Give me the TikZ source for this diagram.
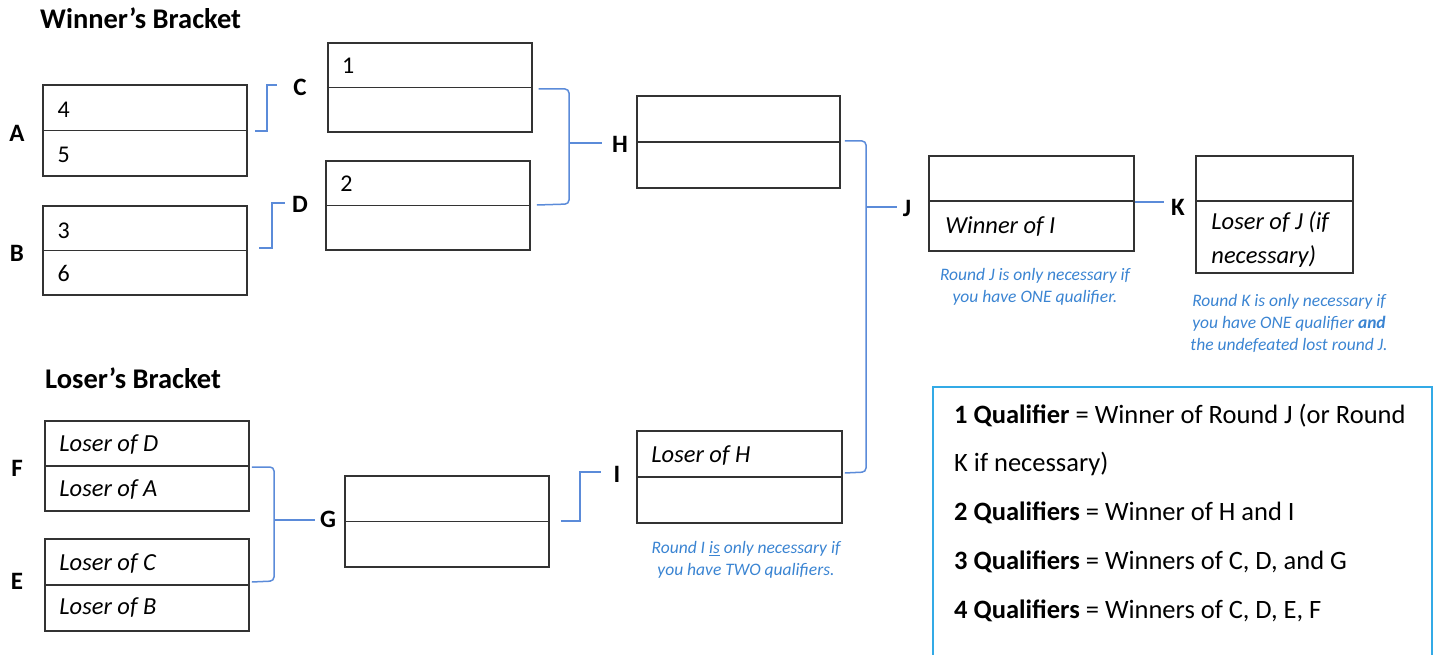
\documentclass[tikz,border=0pt]{standalone}
\usepackage{fontspec}
\setmainfont{Carlito}
\usetikzlibrary{calc}
\definecolor{connc}{HTML}{5B8BD9}
\definecolor{notec}{HTML}{3A84D2}
\definecolor{legc}{HTML}{33AAE6}
\definecolor{boxc}{HTML}{333333}
\begin{document}
\begin{tikzpicture}[x=1pt,y=-1pt,
  bx/.style={draw=boxc,line width=1.6pt,inner sep=0pt,minimum width=204pt,minimum height=91pt},
  lbl/.style={font=\fontsize{25}{30}\selectfont\bfseries,inner sep=0pt},
  ttl/.style={font=\fontsize{28.5}{33}\selectfont\bfseries,inner sep=0pt,anchor=west},
  num/.style={font=\fontsize{24}{29}\selectfont,inner sep=0pt,anchor=west},
  itx/.style={font=\fontsize{24.5}{29}\selectfont\itshape,inner sep=0pt,anchor=west},
  note/.style={font=\fontsize{17.5}{22}\selectfont\itshape,text=notec,align=center,inner sep=0pt},
  leg/.style={font=\fontsize{26.5}{31}\selectfont,inner sep=0pt,anchor=west},
  connl/.style={draw=connc,line width=1.5pt},
  divl/.style={draw=boxc,line width=1.6pt}]
\useasboundingbox (0,0) rectangle (1437,655);

% titles
\node[ttl] (tW) at (40,18) {Winner’s Bracket};
\node[ttl] (tL) at (45,378) {Loser’s Bracket};

% boxes
\node[bx] (A) at (145.25,130.5) {};
\node[bx,minimum height=89pt] (B) at (145.25,250.5) {};
\node[bx,minimum height=89pt] (C) at (429.75,87.5) {};
\node[bx,minimum height=89pt] (D) at (428,205.5) {};
\node[bx,minimum width=203pt,minimum height=92pt] (H) at (738.5,142) {};
\node[bx,minimum width=205pt,minimum height=95pt] (J) at (1031.5,203.5) {};
\node[bx,minimum width=157pt,minimum height=117pt] (K) at (1274.5,214.5) {};
\node[bx,minimum height=90pt] (F) at (147,466) {};
\node[bx,minimum height=92pt] (E) at (147,585) {};
\node[bx] (G) at (447,521.5) {};
\node[bx,minimum width=205pt,minimum height=92pt] (I) at (739.5,477) {};

% dividers
\foreach \b in {A,B,C,D,H,F,E,G,I}{\draw[divl] (\b.west) -- (\b.east);}
\draw[divl] ($(J.north west)+(0,46)$) -- ($(J.north east)+(0,46)$);
\draw[divl] ($(K.north west)+(0,46)$) -- ($(K.north east)+(0,46)$);

% box texts
\node[num] (tA1) at ($(A.west)+(15,-21)$) {4};
\node[num] (tA2) at ($(A.west)+(15,24)$) {5};
\node[num] (tB1) at ($(B.west)+(15,-20)$) {3};
\node[num] (tB2) at ($(B.west)+(15,23)$) {6};
\node[num] (tC1) at ($(C.west)+(15,-22)$) {1};
\node[num] (tD1) at ($(D.west)+(15,-22)$) {2};
\node[itx] (tF1) at ($(F.west)+(15,-21)$) {Loser of D};
\node[itx] (tF2) at ($(F.west)+(15,24)$) {Loser of A};
\node[itx] (tE1) at ($(E.west)+(15,-21)$) {Loser of C};
\node[itx] (tE2) at ($(E.west)+(15,23)$) {Loser of B};
\node[itx] (tI1) at ($(I.west)+(15,-21)$) {Loser of H};
\node[itx] (tJ2) at ($(J.north west)+(17,71)$) {Winner of I};
\node[itx] (tK2) at ($(K.north west)+(16,67)$) {Loser of J (if};
\node[itx] (tK3) at ($(K.north west)+(16,101)$) {necessary)};

% round labels
\node[lbl] (lA) at (17,133) {A};
\node[lbl] (lB) at (17,253) {B};
\node[lbl] (lC) at (300,87) {C};
\node[lbl] (lD) at (300,204) {D};
\node[lbl] (lH) at (620,144) {H};
\node[lbl] (lJ) at (907,208) {J};
\node[lbl] (lK) at (1178,207) {K};
\node[lbl] (lF) at (17,468) {F};
\node[lbl] (lE) at (17,581) {E};
\node[lbl] (lG) at (328,519) {G};
\node[lbl] (lI) at (617,474) {I};

% connectors
\draw[connl] ([xshift=7pt]A.east |- 0,131) -- ++(12,0) |- ([xshift=-16pt]lC.west |- 0,85);
\draw[connl] ([xshift=11pt]B.east |- 0,248) -- ++(13,0) |- ([xshift=-7pt]lD.west |- 0,203);
\draw[connl,rounded corners=4pt] ([xshift=6pt]C.east |- 0,89) -- (569,89) -- (569,204) -- ([xshift=6pt]D.east |- 0,205);
\draw[connl] (569,143) -- ([xshift=-10pt]lH.west |- 0,143);
\draw[connl,rounded corners=4pt] ([xshift=4pt]H.east |- 0,141) -- (866,141) -- (866,472) -- ([xshift=2pt]I.east |- 0,473);
\draw[connl] (866,207) -- ([xshift=-6pt]lJ.west |- 0,207);
\draw[connl] (J.east |- 0,202) -- ([xshift=-7pt]lK.west |- 0,202);
\draw[connl,rounded corners=4pt] ([xshift=2pt]F.east |- 0,467) -- (274,467) -- (274,581) -- ([xshift=2pt]E.east |- 0,582);
\draw[connl] (274,520) -- ([xshift=-5pt]lG.west |- 0,520);
\draw[connl] ([xshift=11pt]G.east |- 0,521) -- ++(19,0) |- ([xshift=-12pt]lI.west |- 0,472);

% notes
\node[note] (nJ) at (1035,287) {Round J is only necessary if\\you have ONE qualifier.};
\node[note] (nK) at (1289,323) {Round K is only necessary if\\you have ONE qualifier \textbf{and}\\the undefeated lost round J.};
\node[note] (nI) at (746,560) {Round I \underline{is} only necessary if\\you have TWO qualifiers.};

% legend
\draw[draw=legc,line width=1.6pt] (933,660) -- (933,387) -- (1432,387) -- (1432,660);
\node[leg] (q1) at (954,416) {\textbf{1 Qualifier} = Winner of Round J (or Round};
\node[leg] (q2) at (954,464) {K if necessary)};
\node[leg] (q3) at (954,513) {\textbf{2 Qualifiers} = Winner of H and I};
\node[leg] (q4) at (954,562) {\textbf{3 Qualifiers} = Winners of C, D, and G};
\node[leg] (q5) at (954,611) {\textbf{4 Qualifiers} = Winners of C, D, E, F};
\end{tikzpicture}
\end{document}
